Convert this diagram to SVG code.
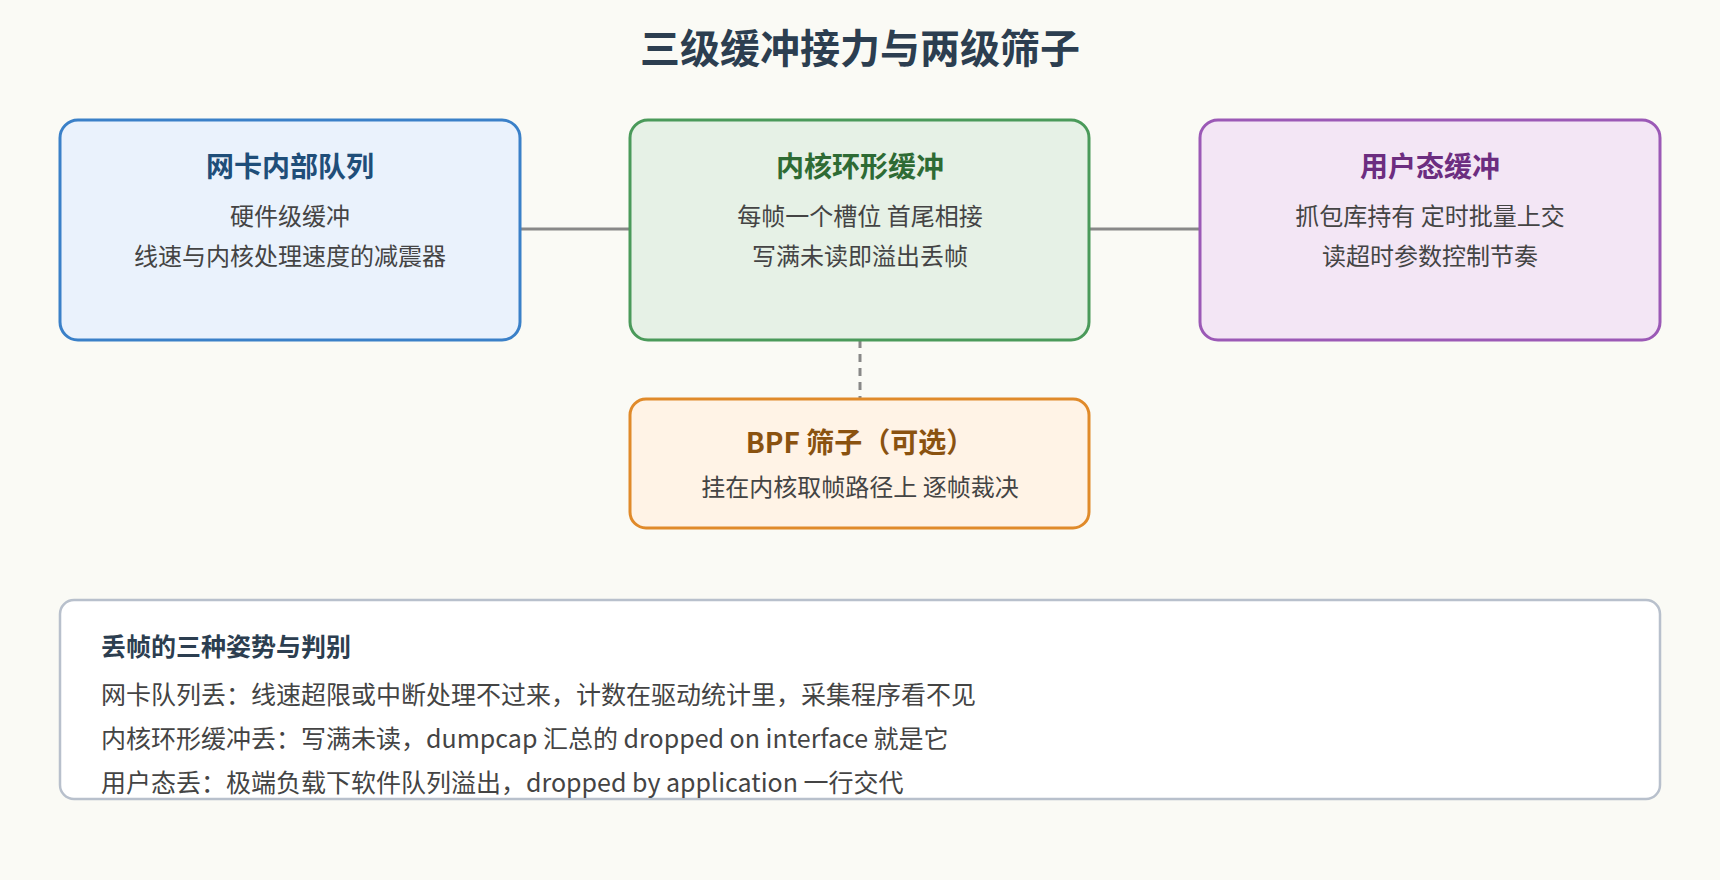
<svg xmlns="http://www.w3.org/2000/svg" width="1720" height="880" viewBox="0 0 1720 880">
<style>
text{font-family:"Noto Sans CJK SC","Noto Sans",sans-serif;}
.t{font-size:28px;font-weight:bold;text-anchor:middle}
.b{font-size:24px;fill:#444;text-anchor:middle}
.n{stroke-width:3}
.l{font-size:25px;fill:#444}
</style>
<rect width="1720" height="880" fill="#fafaf5"/>
<text x="860" y="63" text-anchor="middle" font-size="40" font-weight="bold" fill="#2c3e50">三级缓冲接力与两级筛子</text>
<g id="connectors" stroke="#888" stroke-width="3" fill="none">
<line x1="520" y1="229" x2="630" y2="229"/>
<line x1="1089" y1="229" x2="1200" y2="229"/>
<line x1="860" y1="340" x2="860" y2="399" stroke-dasharray="8,6"/>
</g>
<g id="nic">
<rect class="n" x="60" y="120" width="460" height="220" rx="18" fill="#eaf2fc" stroke="#3a80c8"/>
<text class="t" x="290" y="177" fill="#1f4e79">网卡内部队列</text>
<text class="b" x="290" y="225">硬件级缓冲</text>
<text class="b" x="290" y="265">线速与内核处理速度的减震器</text>
</g>
<g id="ring">
<rect class="n" x="630" y="120" width="459" height="220" rx="18" fill="#e6f1e6" stroke="#4a9a5a"/>
<text class="t" x="860" y="177" fill="#2e6b34">内核环形缓冲</text>
<text class="b" x="860" y="225">每帧一个槽位 首尾相接</text>
<text class="b" x="860" y="265">写满未读即溢出丢帧</text>
</g>
<g id="user">
<rect class="n" x="1200" y="120" width="460" height="220" rx="18" fill="#f3e6f5" stroke="#9b59b6"/>
<text class="t" x="1430" y="177" fill="#6c2d80">用户态缓冲</text>
<text class="b" x="1430" y="225">抓包库持有 定时批量上交</text>
<text class="b" x="1430" y="265">读超时参数控制节奏</text>
</g>
<g id="bpf">
<rect class="n" x="630" y="399" width="459" height="129" rx="16" fill="#fff3e6" stroke="#e08a2a"/>
<text class="t" x="860" y="453" fill="#8a5210">BPF 筛子（可选）</text>
<text class="b" x="860" y="496">挂在内核取帧路径上 逐帧裁决</text>
</g>
<g id="note">
<rect x="60" y="600" width="1600" height="199" rx="14" fill="#fff" stroke="#b8c0cc" stroke-width="2.5"/>
<text x="101" y="656" font-size="25" font-weight="bold" fill="#2c3e50">丢帧的三种姿势与判别</text>
<text class="l" x="101" y="704">网卡队列丢：线速超限或中断处理不过来，计数在驱动统计里，采集程序看不见</text>
<text class="l" x="101" y="748">内核环形缓冲丢：写满未读，dumpcap 汇总的 dropped on interface 就是它</text>
<text class="l" x="101" y="792">用户态丢：极端负载下软件队列溢出，dropped by application 一行交代</text>
</g>
</svg>
